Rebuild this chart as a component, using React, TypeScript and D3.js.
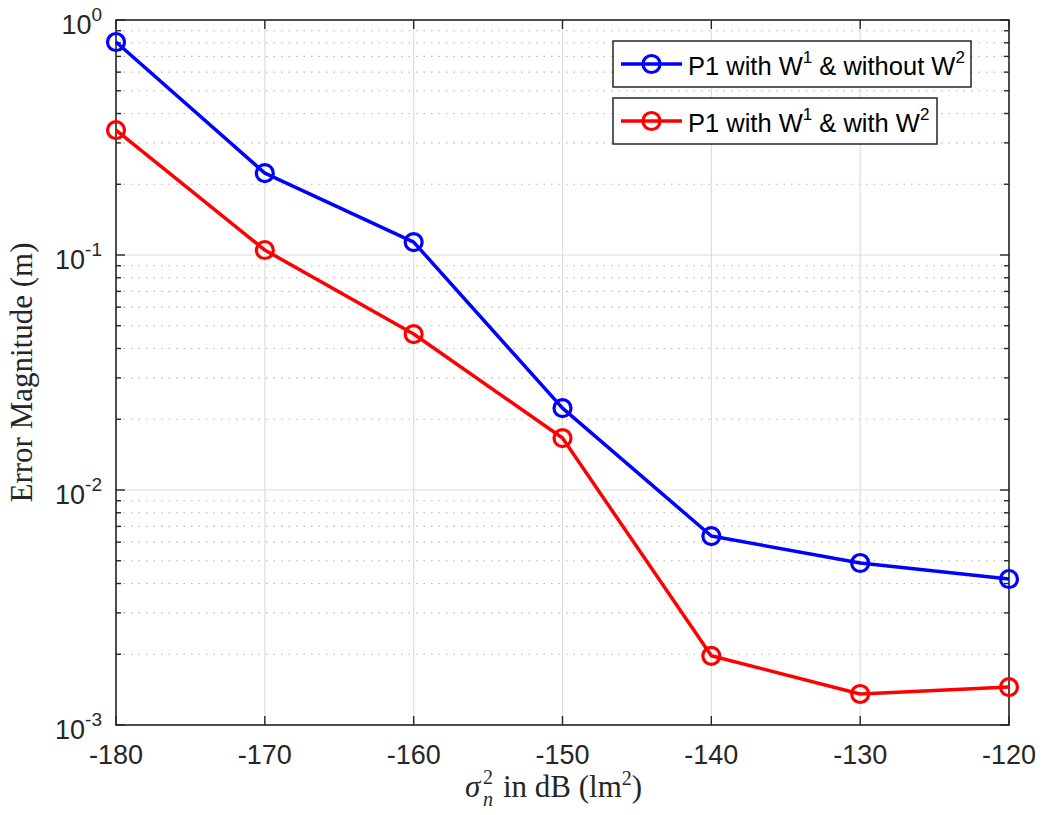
import React, { useEffect, useRef } from 'react'
import * as d3 from 'd3'

const noiseDb = [-180, -170, -160, -150, -140, -130, -120]
const errWithoutW2 = [0.806, 0.223, 0.1135, 0.0223, 0.00637, 0.00489, 0.00418]
const errWithW2 = [0.34, 0.105, 0.0461, 0.01664, 0.00197, 0.001355, 0.00145]
const xTicks = [-180, -170, -160, -150, -140, -130, -120]
const yExponents = [0, -1, -2, -3]

const seriesList = [
    { name: 'without', values: errWithoutW2, color: '#0000ff', pre: 'P1 with W', sup1: '1', mid: ' & without W', sup2: '2' },
    { name: 'with', values: errWithW2, color: '#ff0000', pre: 'P1 with W', sup1: '1', mid: ' & with W', sup2: '2' },
]

const App = () => {
    const chartRef = useRef<SVGSVGElement>(null)

    useEffect(() => {
        const width = 1044
        const height = 815
        const margin = { top: 20, right: 35, bottom: 90, left: 116 }
        const innerW = width - margin.left - margin.right
        const innerH = height - margin.top - margin.bottom

        const svg = d3.select(chartRef.current)
        svg.selectAll('*').remove()

        const x = d3.scaleLinear().domain([-180, -120]).range([0, innerW])
        const y = d3.scaleLog().domain([1e-3, 1]).range([innerH, 0])

        const g = svg.append('g').attr('transform', `translate(${margin.left}, ${margin.top})`)

        const minorVals: number[] = []
        yExponents.slice(1).forEach(e => {
            for (let k = 2; k <= 9; k++) minorVals.push(k * Math.pow(10, e))
        })

        // grid
        g.selectAll('.minor-grid').data(minorVals).enter().append('line')
            .attr('x1', 0).attr('x2', innerW)
            .attr('y1', d => y(d)).attr('y2', d => y(d))
            .attr('stroke', '#b8b8b8').attr('stroke-width', 1.2)
            .attr('stroke-dasharray', '1.5,6')
        g.selectAll('.vgrid').data(xTicks).enter().append('line')
            .attr('x1', d => x(d)).attr('x2', d => x(d))
            .attr('y1', 0).attr('y2', innerH)
            .attr('stroke', '#dedede').attr('stroke-width', 1.2)
        g.selectAll('.hgrid').data(yExponents).enter().append('line')
            .attr('x1', 0).attr('x2', innerW)
            .attr('y1', d => y(Math.pow(10, d))).attr('y2', d => y(Math.pow(10, d)))
            .attr('stroke', '#dedede').attr('stroke-width', 1.2)

        // ticks inside, on all four sides
        const axisColor = '#262626'
        xTicks.forEach(t => {
            g.append('line').attr('x1', x(t)).attr('x2', x(t)).attr('y1', innerH).attr('y2', innerH - 9)
                .attr('stroke', axisColor).attr('stroke-width', 1.4)
            g.append('line').attr('x1', x(t)).attr('x2', x(t)).attr('y1', 0).attr('y2', 9)
                .attr('stroke', axisColor).attr('stroke-width', 1.4)
        })
        yExponents.forEach(e => {
            const yy = y(Math.pow(10, e))
            g.append('line').attr('x1', 0).attr('x2', 9).attr('y1', yy).attr('y2', yy)
                .attr('stroke', axisColor).attr('stroke-width', 1.4)
            g.append('line').attr('x1', innerW).attr('x2', innerW - 9).attr('y1', yy).attr('y2', yy)
                .attr('stroke', axisColor).attr('stroke-width', 1.4)
        })
        minorVals.forEach(v => {
            const yy = y(v)
            g.append('line').attr('x1', 0).attr('x2', 5).attr('y1', yy).attr('y2', yy)
                .attr('stroke', axisColor).attr('stroke-width', 1.4)
            g.append('line').attr('x1', innerW).attr('x2', innerW - 5).attr('y1', yy).attr('y2', yy)
                .attr('stroke', axisColor).attr('stroke-width', 1.4)
        })

        g.append('rect')
            .attr('x', 0).attr('y', 0).attr('width', innerW).attr('height', innerH)
            .attr('fill', 'none').attr('stroke', axisColor).attr('stroke-width', 1.6)

        // tick labels
        const sansFont = '"Liberation Sans", Arial, sans-serif'
        g.selectAll('.xlabel').data(xTicks).enter().append('text')
            .attr('x', d => x(d)).attr('y', innerH + 39)
            .attr('text-anchor', 'middle')
            .attr('font-family', sansFont).attr('font-size', 27).attr('fill', axisColor)
            .text(d => d)

        yExponents.forEach(e => {
            const t = g.append('text')
                .attr('x', -14).attr('y', y(Math.pow(10, e)) + 14)
                .attr('text-anchor', 'end')
                .attr('font-family', sansFont).attr('font-size', 27).attr('fill', axisColor)
            t.append('tspan').text('10')
            t.append('tspan').attr('dy', -13).attr('font-size', 19).text(e)
        })

        // lines and markers
        const line = d3.line<number>()
            .x((_, i) => x(noiseDb[i]))
            .y(d => y(d))

        seriesList.forEach(s => {
            g.append('path').datum(s.values)
                .attr('d', line)
                .attr('fill', 'none').attr('stroke', s.color).attr('stroke-width', 3.5)
                .attr('stroke-linejoin', 'round')
            g.selectAll(`.pt-${s.name}`).data(s.values).enter().append('circle')
                .attr('cx', (_, i) => x(noiseDb[i])).attr('cy', d => y(d))
                .attr('r', 8.5).attr('fill', 'none')
                .attr('stroke', s.color).attr('stroke-width', 3.2)
        })

        // axis titles
        const serifFont = '"Liberation Serif", "Times New Roman", serif'
        const xt = svg.append('g').attr('fill', axisColor).attr('font-family', serifFont)
        xt.append('text').attr('x', 465).attr('y', 797)
            .attr('font-size', 31).attr('font-style', 'italic').text('σ')
        xt.append('text').attr('x', 483).attr('y', 806)
            .attr('font-size', 20).attr('font-style', 'italic').text('n')
        xt.append('text').attr('x', 483).attr('y', 784)
            .attr('font-size', 20).text('2')
        xt.append('text').attr('x', 503).attr('y', 797).attr('font-size', 31)
            .call(t => {
                t.append('tspan').text('in dB (lm')
                t.append('tspan').attr('font-size', 20).attr('dy', -12).text('2')
                t.append('tspan').attr('dy', 12).text(')')
            })

        svg.append('text')
            .attr('transform', `translate(32, ${margin.top + innerH / 2}) rotate(-90)`)
            .attr('text-anchor', 'middle')
            .attr('font-family', serifFont).attr('font-size', 31).attr('fill', axisColor)
            .text('Error Magnitude (m)')

        // legends (two separate boxes)
        const legendBoxes = [
            { x: 613, y: 41, w: 358, h: 46 },
            { x: 613, y: 98, w: 324, h: 46 },
        ]
        seriesList.forEach((s, i) => {
            const b = legendBoxes[i]
            const lg = svg.append('g').attr('transform', `translate(${b.x}, ${b.y})`)
            lg.append('rect').attr('width', b.w).attr('height', b.h)
                .attr('fill', '#fff').attr('stroke', '#262626').attr('stroke-width', 1.5)
            lg.append('line').attr('x1', 8).attr('x2', 69).attr('y1', b.h / 2).attr('y2', b.h / 2)
                .attr('stroke', s.color).attr('stroke-width', 3.5)
            lg.append('circle').attr('cx', 38.5).attr('cy', b.h / 2).attr('r', 8.5)
                .attr('fill', 'none').attr('stroke', s.color).attr('stroke-width', 3.2)
            const t = lg.append('text')
                .attr('x', 75).attr('y', b.h / 2 + 11)
                .attr('font-family', sansFont).attr('font-size', 25.5).attr('fill', '#000')
            t.append('tspan').text(s.pre)
            t.append('tspan').attr('font-size', 17).attr('dy', -12).text(s.sup1)
            t.append('tspan').attr('dy', 12).text(s.mid)
            t.append('tspan').attr('font-size', 17).attr('dy', -12).text(s.sup2)
        })
    }, [])

    return (
        <svg ref={chartRef} width={1044} height={815}
            style={{ position: 'absolute', left: 0, top: 0, background: '#fff' }} />
    )
}

export default App
